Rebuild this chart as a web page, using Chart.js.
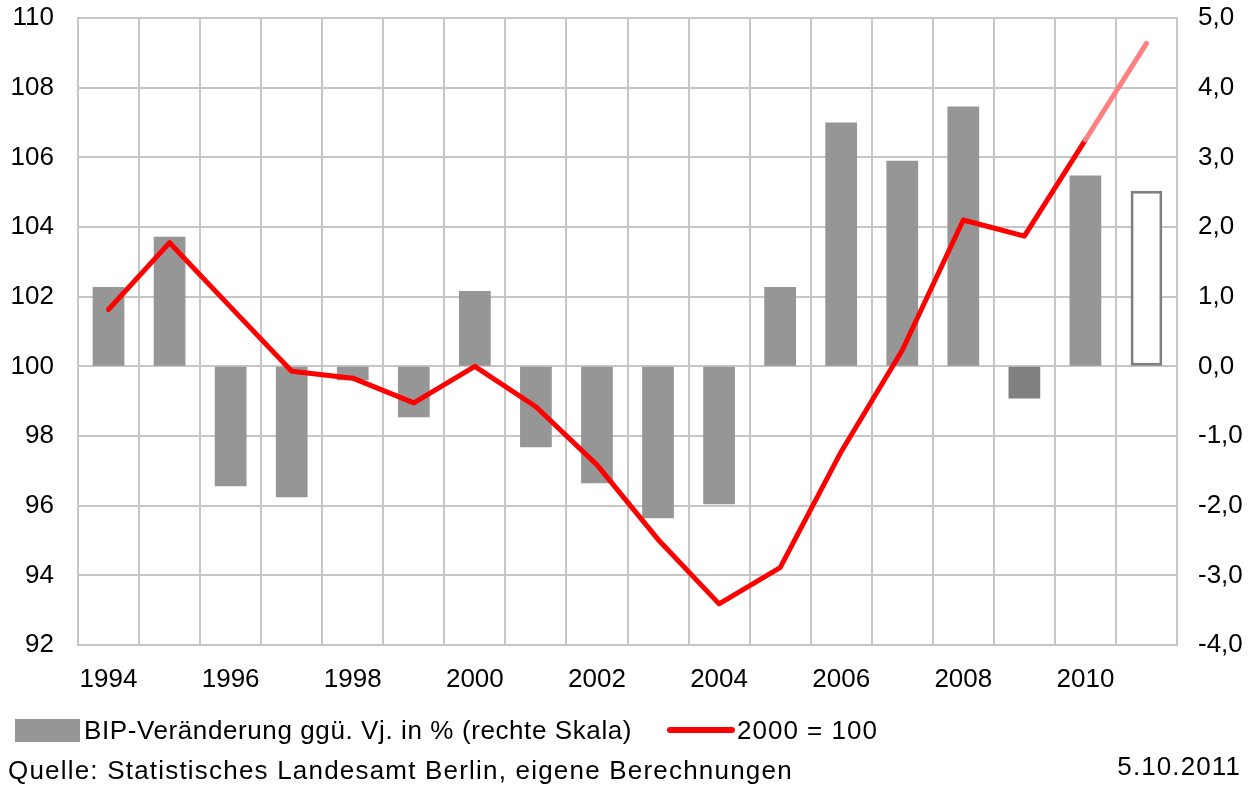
<!DOCTYPE html>
<html>
<head>
<meta charset="utf-8">
<script src="https://cdn.jsdelivr.net/npm/chart.js@4"></script>
<style>
  body { margin: 0; background: #fff; }
  #wrap { position: relative; width: 1254px; height: 787px; font-family: "Liberation Sans", Arial, sans-serif; color: #000; }
  #chart { position: absolute; left: 0; top: 0; }
  .txt { position: absolute; font-size: 26px; white-space: nowrap; line-height: 30px; }
  .box { position: absolute; }
</style>
</head>
<body>
<div id="wrap">
  <canvas id="chart" width="1254" height="787"></canvas>
  <div class="box" style="left:15px;top:719px;width:65px;height:23px;background:#969696"></div>
  <div class="txt" style="left:84px;top:715px;letter-spacing:0.6px">BIP-Veränderung ggü. Vj. in % (rechte Skala)</div>
  <div class="box" style="left:667px;top:727px;width:68px;height:6px;background:#ff0000;border-radius:3px"></div>
  <div class="txt" style="left:737px;top:715px;letter-spacing:1px">2000 = 100</div>
  <div class="txt" style="left:8px;top:755px;letter-spacing:1.2px">Quelle: Statistisches Landesamt Berlin, eigene Berechnungen</div>
  <div class="txt" style="right:13px;top:751px;letter-spacing:1.1px">5.10.2011</div>
</div>
<script>
// Daten
const years = ['1994', '1995', '1996', '1997', '1998', '1999', '2000', '2001', '2002',
  '2003', '2004', '2005', '2006', '2007', '2008', '2009', '2010', '2011'];
// BIP-Veränderung ggü. Vorjahr in % (rechte Skala)
const bipChange = [1.14, 1.86, -1.72, -1.88, -0.2, -0.73, 1.08, -1.16, -1.68,
  -2.18, -1.98, 1.14, 3.5, 2.95, 3.73, -0.46, 2.74, 2.52];
// Index 2000 = 100 (linke Skala)
const index2000 = [101.63, 103.55, 101.7, 99.86, 99.66, 98.95, 100, 98.84, 97.17,
  95.03, 93.18, 94.22, 97.55, 100.46, 104.2, 103.74, 106.5, 109.27];

const gridColor = '#c6c6c6';
const tickFont = { family: '"Liberation Sans", Arial, sans-serif', size: 26 };

const ctx = document.getElementById('chart').getContext('2d');
new Chart(ctx, {
  type: 'bar',
  data: {
    labels: years,
    datasets: [
      {
        type: 'line',
        label: '2000 = 100',
        data: index2000,
        yAxisID: 'y',
        borderColor: '#ff0000',
        borderWidth: 5,
        borderCapStyle: 'round',
        borderJoinStyle: 'round',
        pointRadius: 0,
        tension: 0,
        order: 0,
        segment: {
          // Prognose 2011 heller
          borderColor: c => c.p0DataIndex === years.length - 2 ? '#ff8080' : '#ff0000'
        }
      },
      {
        label: 'BIP-Veränderung ggü. Vj. in % (rechte Skala)',
        data: bipChange,
        yAxisID: 'y1',
        backgroundColor: c => {
          const y = years[c.dataIndex];
          if (y === '2011') return '#ffffff';
          if (y === '2009') return '#808080';
          return '#969696';
        },
        borderColor: '#808080',
        borderWidth: c => years[c.dataIndex] === '2011' ? 3 : 0,
        borderSkipped: false,
        barPercentage: 0.52,
        categoryPercentage: 1,
        order: 1
      }
    ]
  },
  options: {
    responsive: false,
    animation: false,
    layout: { padding: { top: 18, left: 0, right: 0, bottom: 0 } },
    plugins: { legend: { display: false }, tooltip: { enabled: false } },
    scales: {
      x: {
        afterFit: s => { s.height = 142; },
        grid: { color: gridColor, lineWidth: 2, offset: true, drawTicks: false },
        border: { color: gridColor, width: 2 },
        ticks: {
          color: '#000',
          font: tickFont,
          padding: 19,
          autoSkip: false,
          maxRotation: 0,
          callback: function (v, i) { return i % 2 === 0 ? this.getLabelForValue(v) : ''; }
        }
      },
      y: {
        position: 'left',
        min: 92,
        max: 110,
        afterFit: s => { s.width = 78; },
        // unsichtbare Ticks als Abstand, damit ticks.padding oben keinen Rand erzeugt
        grid: { color: gridColor, lineWidth: 2, drawTicks: true, tickLength: 24, tickColor: 'rgba(0,0,0,0)' },
        border: { color: gridColor, width: 2 },
        ticks: { stepSize: 2, color: '#000', font: tickFont, padding: 0 }
      },
      y1: {
        position: 'right',
        min: -4,
        max: 5,
        afterFit: s => { s.width = 77; },
        grid: { drawOnChartArea: false, drawTicks: true, tickLength: 21, tickColor: 'rgba(0,0,0,0)' },
        border: { color: gridColor, width: 2 },
        ticks: {
          stepSize: 1,
          color: '#000',
          font: tickFont,
          padding: 0,
          callback: v => v.toFixed(1).replace('.', ',')
        }
      }
    }
  }
});
</script>
</body>
</html>
